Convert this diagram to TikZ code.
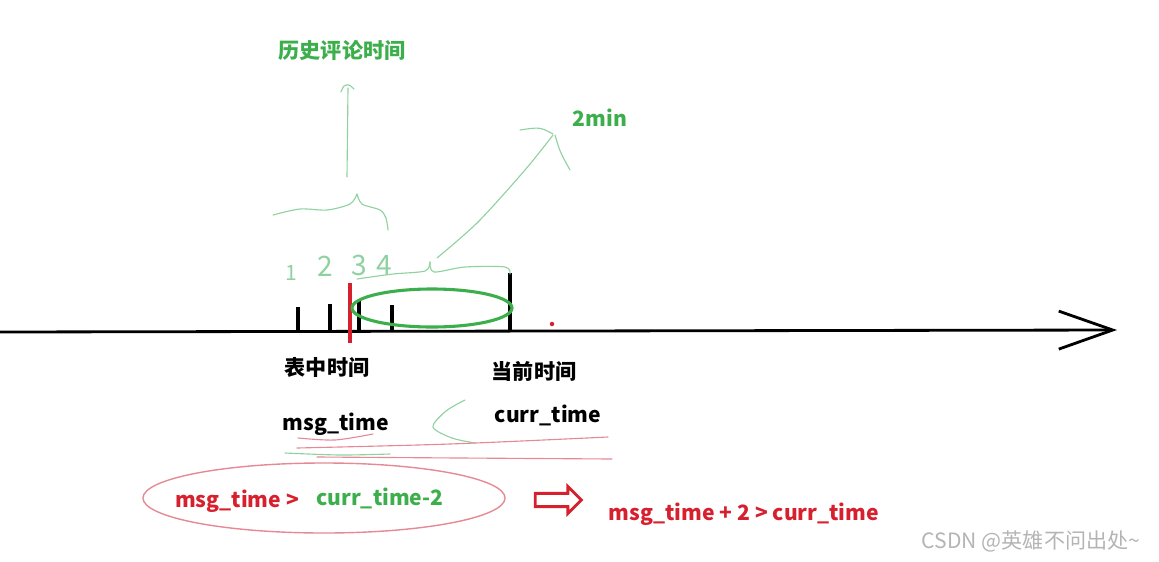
\documentclass[tikz,border=0pt]{standalone}
\usepackage{fontspec}
\setmainfont{Noto Sans CJK SC}
\usepackage{tikz}
\usetikzlibrary{arrows.meta,shapes.arrows}
\definecolor{inkgreen}{HTML}{3DAE4C}
\definecolor{penred}{HTML}{D7202E}
\definecolor{palegreen}{HTML}{8FD2A0}
\definecolor{palered}{HTML}{E58A95}
\definecolor{marklight}{HTML}{B4B4B4}
\tikzset{
  axisline/.style={line width=2pt, black},
  tickline/.style={line width=2.4pt, black},
  pentext/.style={font=\fontsize{15}{18}\selectfont\bfseries, text=#1, inner sep=0pt},
  pentext/.default=black,
  digit/.style={font=\fontsize{#1}{20}\selectfont, text=palegreen, inner sep=0pt},
  digit/.default=20,
  sketch/.style={line width=0.8pt, color=#1, line cap=round, line join=round},
  sketch/.default=palegreen,
  loopmark/.style={line width=2.2pt, color=#1},
  loopmark/.default=inkgreen,
  hollowarrow/.style={single arrow, draw=penred, line width=2pt,
    minimum height=1.15cm, inner xsep=0pt, inner ysep=0.13cm,
    single arrow head extend=0.17cm, single arrow head indent=0pt},
}
\begin{document}
\begin{tikzpicture}[x=0.025cm, y=-0.025cm]
\useasboundingbox (0,0) rectangle (1159,561);
% time axis
\coordinate (axisL) at (0,332);
\coordinate (axisR) at (1117,330);
\draw[axisline, -{Straight Barb[length=1.35cm, width=0.95cm, line width=2pt]}] (axisL) -- (axisR);
\foreach \x/\h in {298/307, 330/304, 359/301, 392/305, 510/273}
  \draw[tickline] (\x,332) -- (\x,\h);
\draw[line width=2.4pt, penred] (350,283) -- (350,343);
\fill[penred] (552,324) circle (1.6pt);
\draw[loopmark] (432,308) ellipse [x radius=2cm, y radius=0.475cm];
% handwritten numbers
\node[digit=15] (d1) at (291,273) {1};
\node[digit] (d2) at (325,266) {2};
\node[digit] (d3) at (359,265) {3};
\node[digit] (d4) at (384,265) {4};
% braces and strokes
\draw[sketch] plot[smooth] coordinates {(273,215) (300,209) (327,210) (350,204) (357,194)};
\draw[sketch] plot[smooth] coordinates {(357,194) (362,204) (380,210) (386,218) (388,230)};
\draw[sketch] (347,177) -- (348,88);
\draw[sketch] plot[smooth] coordinates {(341,92) (344,86) (349,85) (354,89)};
\draw[sketch] plot[smooth] coordinates {(357,279) (393,274) (425,271) (430,262)};
\draw[sketch] plot[smooth] coordinates {(430,262) (434,272) (465,267) (505,267) (510,274)};
\draw[sketch] plot[smooth] coordinates {(437,258) (478,222) (525,170) (553,135)};
\draw[sketch] (520,130) .. controls (540,127) .. (553,134);
\draw[sketch] (555,135) .. controls (560,152) .. (570,170);
% labels
\node[pentext=inkgreen] (histlabel) at (342,50) {历史评论时间};
\node[pentext=inkgreen] (winlabel) at (600,118) {2min};
\node[pentext] (tablelabel) at (327,367) {表中时间};
\node[pentext] (nowlabel) at (534,371) {当前时间};
\node[pentext, anchor=base] (msgvar) at (336,430) {msg\_time};
\node[pentext, anchor=base] (currvar) at (548,422) {curr\_time};
% underlines
\draw[sketch] plot[smooth] coordinates {(465,400) (446,411) (433,427) (452,438) (475,443)};
\draw[sketch=palered] plot[smooth] coordinates {(298,438) (335,440) (373,434)};
\draw[sketch=palered] plot[smooth] coordinates {(297,448) (450,444) (608,437)};
\draw[sketch] plot[smooth] coordinates {(285,453) (340,455) (390,454)};
\draw[sketch=palered] plot[smooth] coordinates {(317,457) (460,458) (612,459)};
% condition
\draw[sketch=palered, line width=1pt] (324,498) ellipse [x radius=4.525cm, y radius=0.875cm];
\node[pentext=penred, anchor=base] (condleft) at (237,507) {msg\_time >};
\node[pentext=inkgreen, anchor=base] (condright) at (380,505) {curr\_time-2};
\node[hollowarrow] (implies) at (555,500) {};
\node[pentext=penred, anchor=base] (result) at (744,520) {msg\_time + 2 > curr\_time};
\node[font=\fontsize{15}{17}\selectfont, text=marklight, inner sep=0pt] (credit) at (1031,541) {CSDN @英雄不问出处\textasciitilde};
\end{tikzpicture}
\end{document}
